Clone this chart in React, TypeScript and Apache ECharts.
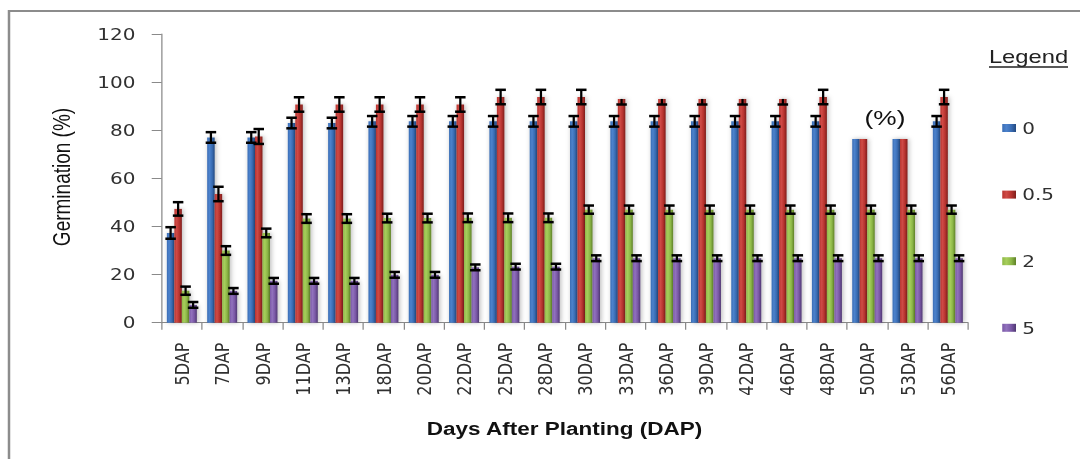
import React, { useEffect, useRef } from "react";
import * as echarts from "echarts";

const categories = ["5DAP", "7DAP", "9DAP", "11DAP", "13DAP", "18DAP", "20DAP", "22DAP", "25DAP", "28DAP", "30DAP", "33DAP", "36DAP", "39DAP", "42DAP", "46DAP", "48DAP", "50DAP", "53DAP", "56DAP"];
const seriesNames = ["0", "0.5", "2", "5"];
const yTicks = { min: 0, max: 120, interval: 20 };

const germ0 = [37.3, 77, 77, 83, 83, 83.7, 83.7, 83.7, 83.7, 83.7, 83.7, 83.7, 83.7, 83.7, 83.7, 83.7, 83.7, 76.4, 76.4, 83.7];
const germ05 = [47.3, 53.5, 77.4, 90.7, 90.7, 90.7, 90.7, 90.7, 93.8, 93.8, 93.8, 93, 93, 93, 93, 93, 93.8, 76.4, 76.4, 93.8];
const germ2 = [13.3, 30, 37.3, 43.3, 43.3, 43.5, 43.5, 43.6, 43.6, 43.6, 47, 47, 47, 47, 47, 47, 47, 47, 47, 47];
const germ5 = [7.4, 13.2, 17.4, 17.4, 17.4, 19.9, 19.9, 23, 23.3, 23.3, 26.8, 26.8, 26.8, 26.8, 26.8, 26.8, 26.8, 26.8, 26.8, 26.8];

// error bars: lower / upper half lengths (null = no error bar visible)
const err0Low = [2.4, 2.2, 2.2, 2.2, 2.2, 2.2, 2.2, 2.2, 2.2, 2.2, 2.2, 2.2, 2.2, 2.2, 2.2, 2.2, 2.2, null, null, 2.2];
const err0High = [2.4, 2.2, 2.2, 2.2, 2.2, 2.2, 2.2, 2.2, 2.2, 2.2, 2.2, 2.2, 2.2, 2.2, 2.2, 2.2, 2.2, null, null, 2.2];
const err05Low = [2.8, 3, 3.1, 3, 3, 3, 3, 3, 3, 3, 3, 2.3, 2.3, 2.3, 2.3, 2.3, 3, null, null, 3];
const err05High = [2.8, 3, 3.1, 3, 3, 3, 3, 3, 3, 3, 3, 0, 0, 0, 0, 0, 3, null, null, 3];
const err2Low = [1.7, 1.8, 1.8, 1.8, 1.8, 1.8, 1.8, 1.8, 1.8, 1.8, 1.7, 1.7, 1.7, 1.7, 1.7, 1.7, 1.7, 1.7, 1.7, 1.7];
const err2High = [1.7, 1.8, 1.8, 1.8, 1.8, 1.8, 1.8, 1.8, 1.8, 1.8, 1.7, 1.7, 1.7, 1.7, 1.7, 1.7, 1.7, 1.7, 1.7, 1.7];
const err5Low = [1.2, 1.2, 1.2, 1.2, 1.2, 1.2, 1.2, 1.2, 1.2, 1.2, 1.2, 1.2, 1.2, 1.2, 1.2, 1.2, 1.2, 1.2, 1.2, 1.2];
const err5High = [1.2, 1.2, 1.2, 1.2, 1.2, 1.2, 1.2, 1.2, 1.2, 1.2, 1.2, 1.2, 1.2, 1.2, 1.2, 1.2, 1.2, 1.2, 1.2, 1.2];

const annotationText = "(%)";

const SX = 1.25; // horizontal stretch of the reference picture
const W = 1080 / SX;
const H = 459;
const CAT_GAP = 0.256;

const grad = (light: string, mid: string, dark: string) => ({
  type: "linear",
  x: 0,
  y: 0,
  x2: 1,
  y2: 0,
  colorStops: [
    { offset: 0, color: mid },
    { offset: 0.3, color: light },
    { offset: 0.65, color: mid },
    { offset: 1, color: dark },
  ],
});

const colors = [
  grad("#4c82cc", "#3a6db5", "#244a80"),
  grad("#cf4b46", "#b8332f", "#7e1f1c"),
  grad("#a7ce5c", "#8db847", "#5f8128"),
  grad("#9172bd", "#7a58a6", "#4f3872"),
];

export default function App() {
  const ref = useRef<HTMLDivElement>(null);
  useEffect(() => {
    if (!ref.current) return;
    const chart = echarts.init(ref.current, null, { renderer: "svg", width: W, height: H });
    const values = [germ0, germ05, germ2, germ5];
    const lows = [err0Low, err05Low, err2Low, err5Low];
    const highs = [err0High, err05High, err2High, err5High];

    const barSeries = values.map((vals, k) => ({
      type: "bar",
      name: seriesNames[k],
      data: vals,
      barGap: "0%",
      barCategoryGap: CAT_GAP * 100 + "%",
      itemStyle: {
        color: colors[k],
        shadowBlur: 4,
        shadowColor: "rgba(0,0,0,0.28)",
        shadowOffsetX: 1,
      },
      z: 2,
    }));

    const errSeries = values.map((vals, k) => ({
      type: "custom",
      name: seriesNames[k] + " error",
      z: 10,
      silent: true,
      data: vals
        .map((v, i) => [i, v, lows[k][i], highs[k][i]])
        .filter((d) => d[2] !== null && d[2] !== undefined),
      renderItem: (params: any, api: any) => {
        const i = api.value(0);
        const v = api.value(1);
        const lo = api.value(2);
        const hi = api.value(3);
        const band = api.size([1, 0])[0];
        const barW = (band * (1 - CAT_GAP)) / 4;
        const p = api.coord([i, v]);
        const cx = p[0] + (k - 1.5) * barW;
        const yl = api.coord([i, v - lo])[1];
        const yh = api.coord([i, v + hi])[1];
        const half = 4.2;
        const children: any[] = [
          { type: "line", shape: { x1: cx, y1: yh, x2: cx, y2: yl }, style: { stroke: "#000", lineWidth: 1.8 } },
        ];
        if (lo > 0)
          children.push({ type: "line", shape: { x1: cx - half, y1: yl, x2: cx + half, y2: yl }, style: { stroke: "#000", lineWidth: 2.5 } });
        if (hi > 0)
          children.push({ type: "line", shape: { x1: cx - half, y1: yh, x2: cx + half, y2: yh }, style: { stroke: "#000", lineWidth: 2.5 } });
        return { type: "group", children };
      },
    }));

    const gridLeft = 161.7 / SX;
    const gridRight = W - 968 / SX;

    chart.setOption({
      animation: false,
      backgroundColor: "#ffffff",
      grid: { left: gridLeft, right: gridRight, top: 34, bottom: H - 322.7 },
      xAxis: {
        type: "category",
        data: categories,
        axisLine: { show: true, lineStyle: { color: "#8a8a8a", width: 1 } },
        axisTick: { show: true, length: 7, lineStyle: { color: "#8a8a8a" } },
        axisLabel: { rotate: 90, margin: 20, fontSize: 16, fontFamily: "DejaVu Sans", color: "#303030" },
        splitLine: { show: false },
      },
      yAxis: {
        type: "value",
        min: yTicks.min,
        max: yTicks.max,
        interval: yTicks.interval,
        axisLine: { show: true, lineStyle: { color: "#8a8a8a", width: 1 } },
        axisTick: { show: true, length: 8, lineStyle: { color: "#8a8a8a" } },
        axisLabel: { margin: 21, fontSize: 16, fontFamily: "DejaVu Sans", color: "#303030" },
        splitLine: { show: false },
      },
      legend: {
        orient: "vertical",
        left: 996 / SX,
        top: 115,
        itemWidth: 11,
        itemHeight: 8,
        itemGap: 50.6,
        icon: "rect",
        data: seriesNames,
        textStyle: { fontFamily: "DejaVu Sans", fontSize: 16, color: "#303030", lineHeight: 16 },
      },
      graphic: [
        {
          type: "rect",
          shape: { x: 9 / SX, y: 11, width: 1200, height: 1000 },
          style: { fill: "none", stroke: "#8c8c8c", lineWidth: 2 },
          silent: true,
        },
        {
          type: "text",
          x: 62 / SX,
          y: 177,
          rotation: Math.PI / 2,
          style: {
            text: "Germination (%)",
            fontFamily: "Liberation Sans",
            fontSize: 19,
            fill: "#111",
            align: "center",
            verticalAlign: "middle",
          },
        },
        {
          type: "text",
          x: 564.5 / SX,
          y: 429,
          style: {
            text: "Days After Planting (DAP)",
            fontFamily: "Liberation Sans",
            fontSize: 18,
            fontWeight: "bold",
            fill: "#111",
            align: "center",
            verticalAlign: "middle",
          },
        },
        {
          type: "text",
          x: 1028.5 / SX,
          y: 57,
          style: {
            text: "Legend",
            fontFamily: "Liberation Sans",
            fontSize: 19,
            fill: "#222",
            align: "center",
            verticalAlign: "middle",
          },
        },
        {
          type: "line",
          shape: { x1: 989 / SX, y1: 67, x2: 1068 / SX, y2: 67 },
          style: { stroke: "#222", lineWidth: 1.3 },
        },
        {
          type: "text",
          x: 885 / SX,
          y: 117,
          style: {
            text: annotationText,
            fontFamily: "Liberation Sans",
            fontSize: 21,
            fill: "#111",
            align: "center",
            verticalAlign: "middle",
          },
        },
      ],
      series: [...barSeries, ...errSeries],
    } as any);
    return () => chart.dispose();
  }, []);

  return (
    <div style={{ position: "fixed", left: 0, top: 0, width: 1080, height: 459, overflow: "hidden", background: "#fff" }}>
      <div
        ref={ref}
        style={{ width: W, height: H, transform: `scaleX(${SX})`, transformOrigin: "0 0" }}
      />
    </div>
  );
}
